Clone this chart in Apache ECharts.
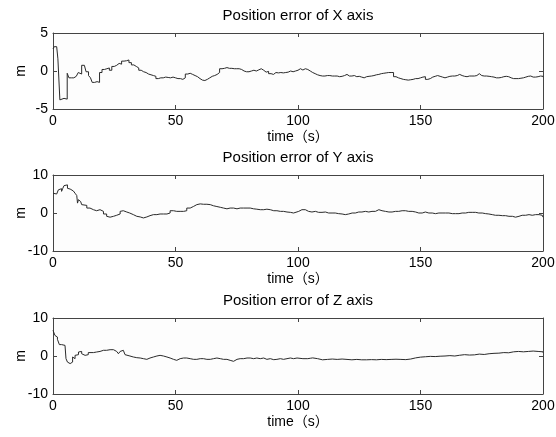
<!DOCTYPE html>
<html>
<head>
<meta charset="utf-8">
<script src="https://cdn.jsdelivr.net/npm/echarts@6/dist/echarts.min.js"></script>
<style>
  html, body { margin: 0; padding: 0; background: #fff; }
  #chart { width: 556px; height: 437px; }
</style>
</head>
<body>
<div id="chart"></div>
<script>
// position error readings, time in seconds
const titles = ["Position error of X axis", "Position error of Y axis", "Position error of Z axis"];
const xTicks = [0, 50, 100, 150, 200];

const tX = [0, 0.5, 1.5, 2, 2.8, 3.5, 4.5, 5, 5.8, 6.5, 7.5, 8.5, 9.5, 10.3, 11, 11.7, 12.8, 13.5, 14.5, 15.3, 16, 17, 18, 19, 20, 21, 22, 23, 24, 25, 26, 27, 28, 29, 30, 31, 32, 33, 34, 35, 36, 37, 38, 39, 40, 41, 42, 43, 44, 45, 46, 47, 48, 49, 50, 51, 52, 53, 54, 55, 56, 57, 58, 59, 60, 61, 62, 63, 64, 65, 66, 67, 68, 69, 70, 71, 72, 73, 74, 75, 76, 77, 78, 79, 80, 81, 82, 83, 84, 85, 86, 87, 88, 89, 90, 91, 92, 93, 94, 95, 96, 97, 98, 99, 100, 101, 102, 103, 104, 105, 106, 107, 108, 109, 110, 111, 112, 113, 114, 115, 116, 117, 118, 119, 120, 121, 122, 123, 124, 125, 126, 127, 128, 129, 130, 131, 132, 133, 134, 135, 136, 137, 138, 139, 140, 141, 142, 143, 144, 145, 146, 147, 148, 149, 150, 151, 152, 153, 154, 155, 156, 157, 158, 159, 160, 161, 162, 163, 164, 165, 166, 167, 168, 169, 170, 171, 172, 173, 174, 175, 176, 177, 178, 179, 180, 181, 182, 183, 184, 185, 186, 187, 188, 189, 190, 191, 192, 193, 194, 195, 196, 197, 198, 199, 200];
const errX = [2.9, 3.2, 3.1, 1.6, -3.8, -3.6, -3.4, -3.7, -0.3, -0.9, -0.9, -0.7, -0.6, -0.2, -0.4, 0.75, 0.6, -0.1, -0.6, -0.9, -1.5, -1.4, -1.5, -0.2, 0.2, 0.3, 0.4, 0.1, 0.6, 0.75, 1.0, 0.9, 1.3, 1.35, 1.45, 1.1, 0.8, 0.6, 0.4, 0.1, -0.1, -0.2, -0.4, -0.5, -0.6, -0.7, -1.0, -0.9, -0.9, -0.8, -0.85, -0.9, -0.8, -0.9, -1.0, -1.0, -1.1, -0.9, -0.4, -0.3, -0.45, -0.6, -0.75, -1.0, -1.2, -1.25, -1.1, -0.9, -0.7, -0.6, -0.45, -0.2, 0.3, 0.35, 0.45, 0.35, 0.35, 0.3, 0.3, 0.3, 0.2, 0.0, -0.1, -0.1, 0.0, 0.1, 0.0, 0.15, 0.3, 0.1, -0.15, -0.05, -0.35, -0.45, -0.2, -0.25, -0.2, -0.25, -0.2, -0.15, 0.0, -0.1, 0.0, 0.1, 0.3, 0.13, 0.3, 0.2, 0.0, -0.2, -0.35, -0.5, -0.6, -0.66, -0.66, -0.6, -0.6, -0.66, -0.66, -0.66, -0.75, -0.7, -0.6, -0.45, -0.66, -0.66, -0.6, -0.75, -0.7, -0.8, -0.9, -0.75, -0.7, -0.66, -0.6, -0.5, -0.45, -0.35, -0.3, -0.25, -0.2, -0.2, -0.2, -0.75, -0.9, -1.0, -1.1, -1.15, -1.2, -1.15, -1.1, -1.0, -1.0, -0.9, -0.8, -0.75, -1.1, -1.0, -0.8, -0.7, -0.6, -0.7, -0.8, -0.9, -0.8, -0.7, -0.66, -0.66, -0.6, -0.45, -0.6, -0.7, -0.75, -0.66, -0.66, -0.66, -0.6, -0.35, -0.6, -0.66, -0.66, -0.7, -0.75, -0.8, -0.9, -0.9, -0.85, -0.75, -0.7, -0.75, -0.9, -1.0, -1.0, -1.0, -0.95, -0.9, -0.8, -0.7, -0.66, -0.8, -0.8, -0.75, -0.66, -0.7, -0.8];

const tY = [0, 0.8, 1.5, 2.2, 2.9, 3.5, 4, 4.5, 5.3, 5.9, 6.3, 7, 7.6, 8.3, 9, 9.7, 10, 10.4, 10.8, 11.3, 11.7, 12.4, 13.8, 15.1, 16.5, 17.8, 19.2, 20.6, 21.9, 22.6, 23.3, 24.7, 26, 27.4, 28, 28.7, 30.1, 31.3, 32.8, 34.2, 35.6, 36.9, 38.3, 39.6, 41, 42.4, 43.7, 45.1, 46.5, 47.8, 49.2, 50.5, 51.9, 53.3, 54.6, 56, 57.4, 58.7, 60.1, 61.4, 62.8, 64.2, 65.5, 66.9, 68.3, 69.6, 71, 72.3, 73.7, 75.1, 76.4, 77.8, 79.2, 80.5, 81.9, 83.2, 84.6, 86, 87.3, 88.7, 90.1, 91.4, 92.8, 94.1, 95.5, 96.9, 98.2, 100.3, 101.6, 103, 104.3, 105.7, 107.1, 108.4, 109.8, 111.2, 112.5, 113.9, 115.2, 116.6, 118, 119.3, 120.7, 122.1, 123.4, 124.8, 126.1, 127.5, 128.9, 130.2, 131.6, 133, 134.3, 135.7, 137.1, 138.4, 139.8, 141.1, 142.5, 143.9, 145.2, 146.6, 148, 149.3, 150.7, 152, 153.4, 154.8, 156.1, 157.5, 158.8, 160.2, 161.6, 163, 164.3, 165.7, 167, 168.4, 169.7, 171.1, 172.5, 173.8, 175.2, 176.6, 177.9, 179.3, 180.6, 182, 183.4, 184.7, 186.1, 187.5, 188.1, 188.8, 190.2, 191.5, 192.9, 194.3, 195.6, 197, 198.4, 199.7, 200];
const errY = [5.2, 5.0, 5.5, 6.1, 6.4, 5.7, 6.5, 7.2, 7.4, 6.5, 6.3, 6.1, 5.8, 5.7, 5.2, 4.6, 2.6, 3.5, 3.0, 3.2, 2.2, 2.0, 1.3, 0.87, 0.6, 0.87, 0.43, -0.26, -0.87, -1.1, -0.87, -0.6, -0.26, 0.43, 0.6, 0.26, 0.0, -0.43, -0.87, -1.04, -1.3, -1.04, -0.7, -0.43, -0.43, -0.26, -0.26, -0.26, 0.0, 0.6, 0.43, 0.43, 0.43, 0.6, 1.3, 1.74, 2.2, 2.4, 2.3, 2.3, 2.2, 1.9, 1.7, 1.5, 1.3, 1.1, 1.3, 1.3, 1.1, 1.3, 1.3, 1.3, 1.3, 1.1, 1.0, 0.87, 0.87, 1.0, 0.87, 0.6, 0.6, 0.43, 0.43, 0.26, 0.17, 0.0, 0.43, 0.87, 0.87, 0.43, 0.26, 0.43, 0.17, 0.17, 0.26, 0.0, 0.0, 0.0, -0.17, -0.26, -0.43, -0.26, 0.0, 0.0, 0.26, 0.26, 0.43, 0.26, 0.43, 0.43, 0.87, 0.6, 0.43, 0.26, 0.26, 0.43, 0.43, 0.6, 0.6, 0.43, 0.43, 0.26, 0.0, 0.0, 0.26, 0.0, 0.0, -0.17, 0.0, 0.0, 0.0, 0.0, -0.17, -0.17, -0.17, 0.0, 0.0, 0.17, 0.17, 0.17, 0.0, 0.0, -0.17, -0.26, -0.43, -0.6, -0.6, -0.7, -0.7, -0.87, -0.87, -1.04, -1.1, -0.87, -0.6, -0.6, -0.43, -0.6, -0.43, -0.43, -0.6, -1.1, -1.2];

const tZ = [0, 0.4, 0.8, 1.5, 1.8, 2.6, 3.5, 4.2, 4.9, 5.3, 5.9, 6.3, 7, 7.6, 8, 8.3, 9, 9.7, 10.4, 11, 11.7, 12.4, 13.1, 13.8, 14.4, 15.1, 16.5, 17.8, 19.2, 20.6, 21.9, 23.3, 24.7, 26, 26.7, 27.4, 28, 28.7, 29.4, 30.1, 31.4, 32.8, 34.2, 35.6, 36.9, 38.3, 39.6, 41, 42.4, 43.7, 45.1, 46.5, 47.8, 49.2, 50.5, 51.9, 53.3, 54.6, 56, 57.4, 58.7, 60.1, 61.4, 62.8, 64.2, 65.5, 66.9, 68.3, 69.6, 71, 72.3, 73.7, 75.1, 76.4, 77.8, 79.2, 80.5, 81.9, 83.2, 84.6, 86, 87.3, 88.7, 90.1, 91.4, 92.8, 94.1, 95.5, 96.9, 98.2, 99.6, 102, 104, 105, 106, 108, 110, 112, 114, 116, 118, 120, 122, 124, 126, 128, 130, 132, 134, 136, 138, 140, 142, 144, 146, 148, 150, 152, 154, 156, 158, 160, 162, 164, 166, 168, 170, 172, 174, 176, 178, 180, 182, 184, 186, 188, 190, 192, 194, 196, 198, 200];
const errZ = [6.75, 6.5, 5.4, 5.0, 4.4, 3.0, 3.0, 2.8, 2.6, -0.7, -1.6, -2.0, -2.0, -1.6, -0.26, -0.7, 0.17, 0.35, 1.05, 1.2, 0.6, 0.17, 0.6, 0.35, 0.9, 0.9, 1.05, 1.2, 1.5, 1.5, 1.66, 1.66, 1.2, 1.05, 0.6, 1.2, 1.5, 1.05, 0.35, 0.0, -0.26, -0.44, -0.53, -0.7, -0.88, -0.53, -0.26, 0.0, 0.17, 0.0, -0.26, -0.53, -0.88, -1.14, -0.7, -0.53, -0.53, -0.7, -0.88, -0.88, -0.7, -0.7, -0.88, -0.88, -0.7, -0.53, -0.7, -0.88, -0.88, -1.14, -1.4, -0.88, -0.7, -0.7, -0.53, -0.53, -0.7, -0.53, -0.7, -0.53, -0.88, -0.7, -0.97, -0.88, -0.7, -0.88, -0.7, -0.53, -0.7, -0.53, -0.7, -0.7, -0.6, -0.5, -0.7, -1.0, -0.9, -0.8, -0.9, -0.8, -0.9, -1.0, -0.9, -1.0, -1.0, -0.95, -1.0, -0.9, -0.95, -0.9, -0.85, -0.9, -0.95, -0.8, -0.5, -0.3, -0.2, -0.1, -0.15, -0.05, 0.0, 0.1, 0.0, 0.2, 0.35, 0.25, 0.3, 0.5, 0.4, 0.6, 0.7, 0.75, 0.9, 0.85, 1.1, 1.2, 1.1, 1.2, 1.3, 1.2, 1.1, 0.9];

const times = [tX, tY, tZ];
const errs = [errX, errY, errZ];
const yRange = [[-5, 5, 5], [-10, 10, 10], [-10, 10, 10]];
const gridTops = [33, 175, 318];

const font = "'Liberation Sans', Arial, 'Noto Sans CJK SC', sans-serif";
const axisColor = "#444";

const chart = echarts.init(document.getElementById("chart"));
const option = {
  backgroundColor: "#fff",
  animation: false,
  title: [],
  grid: [],
  xAxis: [],
  yAxis: [],
  series: [],
};

for (let i = 0; i < 3; i++) {
  option.title.push({
    text: titles[i],
    left: 298,
    top: gridTops[i] - 25,
    textAlign: "center",
    padding: 0,
    textStyle: { fontFamily: font, fontSize: 15, fontWeight: "normal", color: "#000" },
  });
  option.grid.push({
    left: 53, right: 13, top: gridTops[i], height: 76,
    outerBoundsMode: "none", containLabel: false,
    backgroundColor: "#fdfdfd", show: true, borderWidth: 0,
  });

  const xBase = {
    gridIndex: i,
    type: "value",
    min: 0,
    max: 200,
    interval: 50,
    splitLine: { show: false },
    axisLine: { show: true, onZero: false, lineStyle: { color: axisColor, width: 1 } },
    axisTick: { show: true, inside: true, length: 4, lineStyle: { color: axisColor } },
  };
  option.xAxis.push(Object.assign({}, xBase, {
    position: "bottom",
    axisLabel: { fontFamily: font, fontSize: 14, color: "#000", margin: 5, formatter: (v) => (xTicks.includes(v) ? String(v) : "") },
    name: "time（s）",
    nameLocation: "middle",
    nameGap: 21,
    nameMoveOverlap: false,
    nameTextStyle: { fontFamily: font, fontSize: 14, color: "#000" },
  }));
  option.xAxis.push(Object.assign({}, xBase, { position: "top", axisLabel: { show: false } }));

  const yBase = {
    gridIndex: i,
    type: "value",
    min: yRange[i][0],
    max: yRange[i][1],
    interval: yRange[i][2],
    splitLine: { show: false },
    axisLine: { show: true, onZero: false, lineStyle: { color: axisColor, width: 1 } },
    axisTick: { show: true, inside: true, length: 4, lineStyle: { color: axisColor } },
  };
  option.yAxis.push(Object.assign({}, yBase, {
    position: "left",
    axisLabel: { fontFamily: font, fontSize: 14, color: "#000", margin: 5 },
    name: "m",
    nameLocation: "middle",
    nameRotate: 90,
    nameGap: 25,
    nameMoveOverlap: false,
    nameTextStyle: { fontFamily: font, fontSize: 14, color: "#000" },
  }));
  option.yAxis.push(Object.assign({}, yBase, { position: "right", axisLabel: { show: false } }));

  option.series.push({
    type: "line",
    xAxisIndex: i * 2,
    yAxisIndex: i * 2,
    step: "end",
    showSymbol: false,
    data: times[i].map((t, k) => [t, errs[i][k]]),
    lineStyle: { color: "#2a2a2a", width: 1 },
  });
}

chart.setOption(option);
</script>
</body>
</html>
